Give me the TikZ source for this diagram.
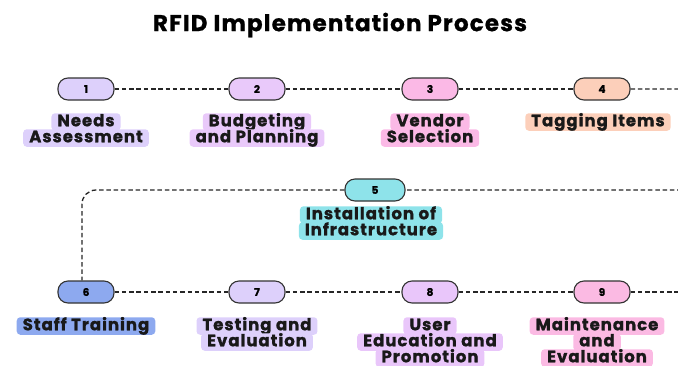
\documentclass[tikz,border=0pt]{standalone}
\usepackage{fontspec}
\setmainfont{Poppins}
\newfontfamily\lblfont{Poppins}[UprightFont=* Bold, LetterSpace=6, FakeBold=1.2]
\newfontfamily\titlefont{Poppins}[UprightFont=* Bold, LetterSpace=5, FakeBold=0.8]
\definecolor{c1}{HTML}{DDD0FB}
\definecolor{c2}{HTML}{E9C9FA}
\definecolor{c3}{HTML}{FBB9E6}
\definecolor{c4}{HTML}{FCCFBA}
\definecolor{c5}{HTML}{8EE3EA}
\definecolor{c6}{HTML}{8DA9EF}
\definecolor{c7}{HTML}{DDD0FB}
\definecolor{c8}{HTML}{E9C6FA}
\definecolor{c9}{HTML}{FBBAE3}
\definecolor{edge}{HTML}{333333}
\tikzset{
  pill/.style={draw=edge, line width=1.1pt, rounded corners=10pt, minimum width=56pt, minimum height=22pt, inner sep=0pt, font=\lblfont\fontsize{10.5}{10}\selectfont},
  lab/.style={rounded corners=3.5pt, inner xsep=6pt, inner ysep=1.5pt, text height=11.5pt, text depth=3pt, font=\lblfont\fontsize{16.5}{16}\selectfont, text=black!90},
  conn/.style={line width=1.3pt, dash pattern=on 4.5pt off 2.8pt, black!85}
}
\begin{document}
\begin{tikzpicture}[x=1pt,y=-1pt]
\useasboundingbox (0,0) rectangle (678,365);
\clip (0,0) rectangle (678,365);
\node[font=\titlefont\fontsize{23}{24}\selectfont] (title) at (340,25) {RFID Implementation Process};
% pills
\node[pill, fill=c1] (p1) at (86,89) {1};
\node[pill, fill=c2] (p2) at (257,89) {2};
\node[pill, fill=c3] (p3) at (430,89) {3};
\node[pill, fill=c4] (p4) at (602,89) {4};
\node[pill, fill=c5, minimum width=60pt] (p5) at (375,190) {5};
\node[pill, fill=c6] (p6) at (86,292) {6};
\node[pill, fill=c7] (p7) at (257,292) {7};
\node[pill, fill=c8] (p8) at (430,292) {8};
\node[pill, fill=c9] (p9) at (602,292) {9};
\coordinate (rt) at (692,89);
\coordinate (rb) at (692,190);
\coordinate (lt) at (82,190);
\coordinate (r3) at (690,292);
% connectors
\draw[conn] (p1) -- (p2);
\draw[conn] (p2) -- (p3);
\draw[conn] (p3) -- (p4);
\draw[conn, rounded corners=14pt] (p4.east) -- (rt) -- (rb) -- (p5.east);
\draw[conn, rounded corners=14pt] (p5.west) -- (lt) -- (p6.north -| lt);
\draw[conn] (p6) -- (p7);
\draw[conn] (p7) -- (p8);
\draw[conn] (p8) -- (p9);
\draw[conn] (p9) -- (r3);
% labels
\node[lab, fill=c1] (l1a) at (86,122) {Needs};
\node[lab, fill=c1] (l1b) at (86,138) {Assessment};
\node[lab, fill=c2] (l2a) at (257,122) {Budgeting};
\node[lab, fill=c2] (l2b) at (257,138) {and Planning};
\node[lab, fill=c3] (l3a) at (430,122) {Vendor};
\node[lab, fill=c3] (l3b) at (430,138) {Selection};
\node[lab, fill=c4] (l4a) at (598,122) {Tagging Items};
\node[lab, fill=c5] (l5a) at (371,215) {Installation of};
\node[lab, fill=c5] (l5b) at (371,231) {Infrastructure};
\node[lab, fill=c6] (l6a) at (86,326) {Staff Training};
\node[lab, fill=c7] (l7a) at (257,326) {Testing and};
\node[lab, fill=c7] (l7b) at (257,342) {Evaluation};
\node[lab, fill=c8] (l8a) at (430,326) {User};
\node[lab, fill=c8] (l8b) at (430,342) {Education and};
\node[lab, fill=c8] (l8c) at (430,358) {Promotion};
\node[lab, fill=c9] (l9a) at (597,326) {Maintenance};
\node[lab, fill=c9] (l9b) at (597,342) {and};
\node[lab, fill=c9] (l9c) at (597,358) {Evaluation};
\end{tikzpicture}
\end{document}
